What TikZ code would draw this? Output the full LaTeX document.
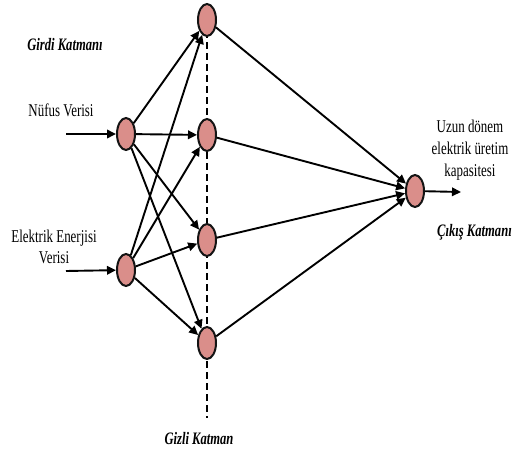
\documentclass[tikz,border=0pt]{standalone}
\usepackage{fontspec}
\setmainfont{Liberation Serif}
\newfontfamily\lblfont[FakeStretch=0.72]{Liberation Serif}
\usetikzlibrary{shapes.geometric,arrows.meta}
\definecolor{neuronfill}{RGB}{218,142,138}
\definecolor{neuronedge}{RGB}{20,20,20}
\tikzset{
  neuron/.style={ellipse, draw=neuronedge, line width=2pt, fill=neuronfill,
    minimum width=18pt, minimum height=32pt, inner sep=0pt},
  link/.style={line width=1.9pt, -{Triangle[length=9pt,width=8.5pt]}},
  lbl/.style={font=\lblfont\fontsize{18}{22}\selectfont, inner sep=0pt, align=center},
  layerlbl/.style={font=\lblfont\bfseries\itshape\fontsize{17.5}{21}\selectfont, inner sep=0pt},
  guide/.style={line width=2pt, dash pattern=on 7pt off 4pt}
}
\begin{document}
\begin{tikzpicture}[x=1pt,y=-1pt]
\useasboundingbox (0,0) rectangle (512,450);

% hidden layer guide line
\coordinate (gtop) at (207,20);
\coordinate (gbot) at (207,418);
\draw[guide] (gtop) -- (gbot);

% neurons
\node[neuron] (i1) at (126,134) {};
\node[neuron] (i2) at (126,270) {};
\node[neuron] (h1) at (207,20) {};
\node[neuron] (h2) at (207,135) {};
\node[neuron] (h3) at (207,240) {};
\node[neuron] (h4) at (207,343) {};
\node[neuron] (o)  at (415,191) {};

% inputs and output
\coordinate (in1) at (66,134);
\coordinate (in2) at (66,271);
\coordinate (out) at (461,192);
\draw[link] (in1) -- (i1);
\draw[link] (in2) -- (i2);
\draw[link] (o) -- (out);

% input -> hidden
\foreach \i in {i1,i2}{
  \foreach \h in {h1,h2,h3,h4}{
    \draw[link] (\i) -- (\h);
  }
}
% hidden -> output
\foreach \h in {h1,h2,h3,h4}{
  \draw[link] (\h) -- (o);
}

% labels
\node[layerlbl] (lin) at (65,45) {Girdi Katmanı};
\node[lbl] (lpop) at (61,110) {Nüfus Verisi};
\node[lbl] (lel) at (54,247) {Elektrik Enerjisi\\[-1pt]Verisi};
\node[lbl] (lout) at (470,150) {Uzun dönem\\elektrik üretim\\kapasitesi};
\node[layerlbl, anchor=west] (lo) at (437,232) {Çıkış Katmanı};
\node[layerlbl] (lh) at (199,439) {Gizli Katman};
\end{tikzpicture}
\end{document}
